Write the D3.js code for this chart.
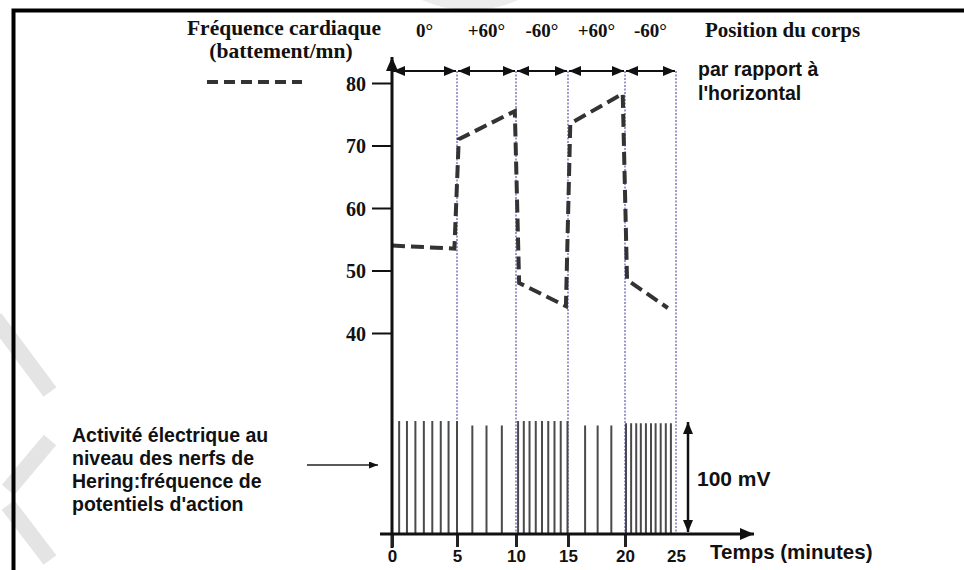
<!DOCTYPE html>
<html>
<head>
<meta charset="utf-8">
<script src="https://cdn.jsdelivr.net/npm/d3@7"></script>
<style>
  body { margin: 0; background: #fff; }
  svg { display: block; }
  .serif { font-family: "Liberation Serif", "Times New Roman", serif; font-weight: bold; fill: #111; }
  .sans { font-family: "Liberation Sans", Arial, sans-serif; font-weight: bold; fill: #111; }
</style>
</head>
<body>
<div id="chart"></div>
<script>
// heart rate (battement/mn) against time (minutes)
const hrTimes  = [0, 4.8, 5.15, 9.9, 10.3, 14.8, 15.2, 19.8, 20.2, 24.2];
const hrValues = [54, 53.5, 71, 75.5, 48, 44.3, 73.5, 78.3, 48.5, 44];

// body position per 5-minute slot
const slots = [0, 5, 10, 15, 20, 25];
const positions = ['0°', '+60°', '-60°', '+60°', '-60°'];

// action potentials on the Hering nerve (time in min, amplitude in mV)
const spikeTimes = [
  0.55, 1.15, 1.8, 2.45, 3.1, 3.75, 4.35, 5.0,
  6.3, 7.5, 8.8,
  10.2, 10.75, 11.3, 11.9, 12.5, 13.1, 13.7, 14.3, 14.95,
  16.5, 17.6, 18.8,
  20.1, 20.6, 21.1, 21.55, 22.05, 22.55, 23.0, 23.5, 24.0, 24.5
];
const spikeAmps = [
  100, 100, 100, 100, 100, 100, 100, 100,
  96, 96, 96,
  100, 100, 100, 100, 100, 100, 100, 100, 100,
  96, 96, 96,
  98, 98, 98, 98, 98, 98, 98, 98, 98, 98
];

const yTicks = [40, 50, 60, 70, 80];
const xTicks = [0, 5, 10, 15, 20, 25];

const width = 964;
const height = 570;

const svg = d3.select('#chart')
  .append('svg')
  .attr('width', width)
  .attr('height', height);

// arrow heads
const defs = svg.append('defs');
function addMarker(id, w, h) {
  defs.append('marker')
    .attr('id', id)
    .attr('viewBox', `0 0 ${w} ${h}`)
    .attr('refX', w)
    .attr('refY', h / 2)
    .attr('markerWidth', w)
    .attr('markerHeight', h)
    .attr('markerUnits', 'userSpaceOnUse')
    .attr('orient', 'auto-start-reverse')
    .append('path')
    .attr('d', `M0,0L${w},${h / 2}L0,${h}Z`)
    .attr('fill', '#111');
}
addMarker('head', 12, 10);
addMarker('headSmall', 9, 7);
addMarker('headBig', 14, 12);

// faint watermark shapes
const wm = svg.append('g').attr('stroke', '#e4e4e4').attr('stroke-width', 16).attr('fill', 'none');
wm.append('path').attr('d', 'M-5,318L50,392');
wm.append('path').attr('d', 'M50,440L8,490');
wm.append('path').attr('d', 'M8,505L50,560');
svg.append('ellipse')
  .attr('cx', 470).attr('cy', -40).attr('rx', 80).attr('ry', 50)
  .attr('fill', '#ececec');

// frame
svg.append('path')
  .attr('d', `M13.5,${height}V10.5H${width}`)
  .attr('fill', 'none')
  .attr('stroke', '#000')
  .attr('stroke-width', 4);

// scales (the drawn time axis is a bit uneven, hence the piecewise range)
const x = d3.scaleLinear()
  .domain(xTicks)
  .range([392, 457, 516, 568, 625, 676]);

const y = d3.scaleLinear()
  .domain([40, 80])
  .range([333, 83]);

const mv = d3.scaleLinear()
  .domain([0, 100])
  .range([533, 421]);

// vertical dotted separators
svg.append('g')
  .selectAll('line')
  .data(slots.slice(1))
  .join('line')
  .attr('x1', d => x(d)).attr('x2', d => x(d))
  .attr('y1', 71).attr('y2', 533)
  .attr('stroke', '#5858b0')
  .attr('stroke-width', 1.2)
  .attr('stroke-dasharray', '2,1.5');

// position arrows along the top
svg.append('g')
  .selectAll('line')
  .data(d3.pairs(slots))
  .join('line')
  .attr('x1', d => x(d[0]) + 1).attr('x2', d => x(d[1]) - 1)
  .attr('y1', 71).attr('y2', 71)
  .attr('stroke', '#111')
  .attr('stroke-width', 2)
  .attr('marker-start', 'url(#head)')
  .attr('marker-end', 'url(#head)');

svg.append('g')
  .selectAll('text')
  .data(d3.pairs(slots))
  .join('text')
  .attr('class', 'serif')
  .attr('x', (d, i) => (x(d[0]) + x(d[1])) / 2)
  .attr('y', 37)
  .attr('text-anchor', 'middle')
  .style('font-size', '19px')
  .text((d, i) => positions[i]);

// action potentials
svg.append('g')
  .selectAll('line')
  .data(spikeTimes)
  .join('line')
  .attr('x1', d => x(d)).attr('x2', d => x(d))
  .attr('y1', mv(0))
  .attr('y2', (d, i) => mv(spikeAmps[i]))
  .attr('stroke', '#4a4a4a')
  .attr('stroke-width', 2);

// heart rate dashed curve
const hr = hrTimes.map((t, i) => [t, hrValues[i]]);
svg.append('path')
  .datum(hr)
  .attr('d', d3.line().x(d => x(d[0])).y(d => y(d[1])))
  .attr('fill', 'none')
  .attr('stroke', '#333')
  .attr('stroke-width', 4)
  .attr('stroke-dasharray', '13,6');

// y axis
const yAxis = svg.append('g')
  .attr('transform', 'translate(391,0)')
  .call(d3.axisLeft(y).tickValues(yTicks).tickSize(19).tickPadding(6));
yAxis.select('.domain').remove();
yAxis.selectAll('.tick line').attr('stroke', '#111').attr('stroke-width', 2);
yAxis.selectAll('.tick text')
  .attr('class', 'serif')
  .style('font-size', '20px')
  .attr('dy', '0.35em');

svg.append('line')
  .attr('x1', 392).attr('x2', 392)
  .attr('y1', 548).attr('y2', 57)
  .attr('stroke', '#111')
  .attr('stroke-width', 3)
  .attr('marker-end', 'url(#headBig)');

// x axis
const xAxis = svg.append('g')
  .attr('transform', 'translate(0,534)')
  .call(d3.axisBottom(x).tickValues(xTicks).tickSize(13).tickPadding(3));
xAxis.select('.domain').remove();
xAxis.selectAll('.tick line')
  .attr('stroke', '#222')
  .attr('stroke-width', 3)
  .attr('display', d => d === 25 ? 'none' : null);
xAxis.selectAll('.tick text')
  .attr('class', 'sans')
  .style('font-size', '17px');

svg.append('line')
  .attr('x1', 380).attr('x2', 754)
  .attr('y1', 534).attr('y2', 534)
  .attr('stroke', '#111')
  .attr('stroke-width', 3)
  .attr('marker-end', 'url(#headBig)');

svg.append('text')
  .attr('class', 'sans')
  .attr('x', 710).attr('y', 559)
  .style('font-size', '20.5px')
  .text('Temps (minutes)');

// 100 mV scale bar
svg.append('line')
  .attr('x1', 688).attr('x2', 688)
  .attr('y1', mv(0) - 1).attr('y2', mv(100) + 1)
  .attr('stroke', '#111')
  .attr('stroke-width', 2.5)
  .attr('marker-start', 'url(#head)')
  .attr('marker-end', 'url(#head)');

svg.append('text')
  .attr('class', 'sans')
  .attr('x', 697).attr('y', 486)
  .style('font-size', '21px')
  .text('100 mV');

// titles
svg.append('text')
  .attr('class', 'serif')
  .attr('x', 284).attr('y', 35)
  .attr('text-anchor', 'middle')
  .style('font-size', '21.5px')
  .text('Fréquence cardiaque');

svg.append('text')
  .attr('class', 'serif')
  .attr('x', 281).attr('y', 58)
  .attr('text-anchor', 'middle')
  .style('font-size', '21.5px')
  .text('(battement/mn)');

// legend dash
svg.append('line')
  .attr('x1', 207).attr('x2', 302)
  .attr('y1', 82).attr('y2', 82)
  .attr('stroke', '#333')
  .attr('stroke-width', 4)
  .attr('stroke-dasharray', '11,6');

svg.append('text')
  .attr('class', 'serif')
  .attr('x', 705).attr('y', 37)
  .style('font-size', '21px')
  .text('Position du corps');

const rap = svg.append('text')
  .attr('class', 'sans')
  .style('font-size', '19.5px');
rap.append('tspan').attr('x', 698).attr('y', 76).text('par rapport à');
rap.append('tspan').attr('x', 698).attr('y', 100).text("l'horizontal");

// left caption with its arrow
const lines = [
  'Activité électrique au',
  'niveau des nerfs de',
  'Hering:fréquence de',
  "potentiels d'action"
];
svg.append('g')
  .selectAll('text')
  .data(lines)
  .join('text')
  .attr('class', 'sans')
  .attr('x', 72)
  .attr('y', (d, i) => 442 + i * 23)
  .style('font-size', '19.5px')
  .text(d => d);

svg.append('line')
  .attr('x1', 307).attr('x2', 378)
  .attr('y1', 465).attr('y2', 465)
  .attr('stroke', '#222')
  .attr('stroke-width', 1.5)
  .attr('marker-end', 'url(#headSmall)');
</script>
</body>
</html>
